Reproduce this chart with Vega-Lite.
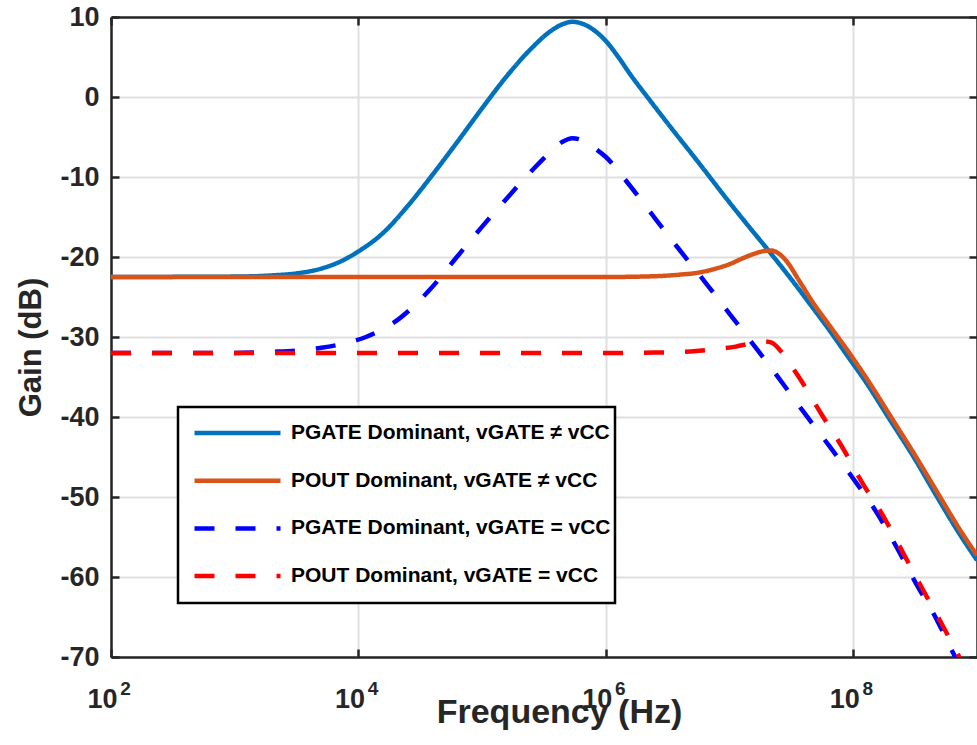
{
  "$schema": "https://vega.github.io/schema/vega-lite/v6.json",
  "width": 866,
  "height": 640,
  "autosize": {"type": "none"},
  "padding": {"left": 111, "top": 17, "right": 0, "bottom": 88},
  "background": "white",
  "config": {
    "font": "Liberation Sans",
    "view": {"stroke": null},
    "legend": {
      "orient": "none",
      "legendX": 67,
      "legendY": 390,
      "symbolType": "stroke",
      "symbolSize": 7396,
      "symbolStrokeWidth": 4.5,
      "clipHeight": 44,
      "rowPadding": 3.7,
      "padding": 4,
      "strokeColor": "#000000",
      "strokeWidth": 2.5,
      "fillColor": "#ffffff",
      "labelFont": "Liberation Sans",
      "labelFontSize": 21,
      "labelFontWeight": "bold",
      "labelColor": "#000000",
      "labelLimit": 0,
      "symbolOffset": 10,
      "labelOffset": 8
    }
  },
  "data": {
    "values": [
      {"series": "PGATE Dominant, vGATE ≠ vCC", "f": 1e2, "gain": -22.5},
      {"series": "PGATE Dominant, vGATE ≠ vCC", "f": 1e3, "gain": -22.45},
      {"series": "PGATE Dominant, vGATE ≠ vCC", "f": 2.0e3, "gain": -22.3},
      {"series": "PGATE Dominant, vGATE ≠ vCC", "f": 3.16e3, "gain": -22.05},
      {"series": "PGATE Dominant, vGATE ≠ vCC", "f": 5.01e3, "gain": -21.45},
      {"series": "PGATE Dominant, vGATE ≠ vCC", "f": 7.08e3, "gain": -20.6},
      {"series": "PGATE Dominant, vGATE ≠ vCC", "f": 1e4, "gain": -19.3},
      {"series": "PGATE Dominant, vGATE ≠ vCC", "f": 1.58e4, "gain": -17.0},
      {"series": "PGATE Dominant, vGATE ≠ vCC", "f": 2.51e4, "gain": -13.6},
      {"series": "PGATE Dominant, vGATE ≠ vCC", "f": 3.98e4, "gain": -9.7},
      {"series": "PGATE Dominant, vGATE ≠ vCC", "f": 6.31e4, "gain": -5.6},
      {"series": "PGATE Dominant, vGATE ≠ vCC", "f": 1e5, "gain": -1.4},
      {"series": "PGATE Dominant, vGATE ≠ vCC", "f": 1.58e5, "gain": 2.6},
      {"series": "PGATE Dominant, vGATE ≠ vCC", "f": 2.51e5, "gain": 6.1},
      {"series": "PGATE Dominant, vGATE ≠ vCC", "f": 3.55e5, "gain": 8.2},
      {"series": "PGATE Dominant, vGATE ≠ vCC", "f": 4.47e5, "gain": 9.1},
      {"series": "PGATE Dominant, vGATE ≠ vCC", "f": 5.37e5, "gain": 9.4},
      {"series": "PGATE Dominant, vGATE ≠ vCC", "f": 6.61e5, "gain": 9.1},
      {"series": "PGATE Dominant, vGATE ≠ vCC", "f": 7.94e5, "gain": 8.4},
      {"series": "PGATE Dominant, vGATE ≠ vCC", "f": 1e6, "gain": 7.0},
      {"series": "PGATE Dominant, vGATE ≠ vCC", "f": 1.26e6, "gain": 5.0},
      {"series": "PGATE Dominant, vGATE ≠ vCC", "f": 1.58e6, "gain": 2.8},
      {"series": "PGATE Dominant, vGATE ≠ vCC", "f": 2.24e6, "gain": -0.3},
      {"series": "PGATE Dominant, vGATE ≠ vCC", "f": 3.16e6, "gain": -3.3},
      {"series": "PGATE Dominant, vGATE ≠ vCC", "f": 5.62e6, "gain": -8.2},
      {"series": "PGATE Dominant, vGATE ≠ vCC", "f": 1e7, "gain": -13.2},
      {"series": "PGATE Dominant, vGATE ≠ vCC", "f": 1.45e7, "gain": -16.3},
      {"series": "PGATE Dominant, vGATE ≠ vCC", "f": 2.09e7, "gain": -19.3},
      {"series": "PGATE Dominant, vGATE ≠ vCC", "f": 3.16e7, "gain": -22.8},
      {"series": "PGATE Dominant, vGATE ≠ vCC", "f": 4.68e7, "gain": -26.3},
      {"series": "PGATE Dominant, vGATE ≠ vCC", "f": 6.31e7, "gain": -29.0},
      {"series": "PGATE Dominant, vGATE ≠ vCC", "f": 8.91e7, "gain": -32.3},
      {"series": "PGATE Dominant, vGATE ≠ vCC", "f": 1.26e8, "gain": -35.6},
      {"series": "PGATE Dominant, vGATE ≠ vCC", "f": 1.95e8, "gain": -40.2},
      {"series": "PGATE Dominant, vGATE ≠ vCC", "f": 3.16e8, "gain": -45.3},
      {"series": "PGATE Dominant, vGATE ≠ vCC", "f": 4.68e8, "gain": -49.8},
      {"series": "PGATE Dominant, vGATE ≠ vCC", "f": 7.08e8, "gain": -54.4},
      {"series": "PGATE Dominant, vGATE ≠ vCC", "f": 1e9, "gain": -57.9},

      {"series": "POUT Dominant, vGATE ≠ vCC", "f": 1e2, "gain": -22.5},
      {"series": "POUT Dominant, vGATE ≠ vCC", "f": 1e4, "gain": -22.5},
      {"series": "POUT Dominant, vGATE ≠ vCC", "f": 1e6, "gain": -22.5},
      {"series": "POUT Dominant, vGATE ≠ vCC", "f": 2.51e6, "gain": -22.4},
      {"series": "POUT Dominant, vGATE ≠ vCC", "f": 3.98e6, "gain": -22.2},
      {"series": "POUT Dominant, vGATE ≠ vCC", "f": 5.62e6, "gain": -21.95},
      {"series": "POUT Dominant, vGATE ≠ vCC", "f": 7.94e6, "gain": -21.4},
      {"series": "POUT Dominant, vGATE ≠ vCC", "f": 1e7, "gain": -20.9},
      {"series": "POUT Dominant, vGATE ≠ vCC", "f": 1.26e7, "gain": -20.2},
      {"series": "POUT Dominant, vGATE ≠ vCC", "f": 1.58e7, "gain": -19.6},
      {"series": "POUT Dominant, vGATE ≠ vCC", "f": 1.91e7, "gain": -19.25},
      {"series": "POUT Dominant, vGATE ≠ vCC", "f": 2.19e7, "gain": -19.2},
      {"series": "POUT Dominant, vGATE ≠ vCC", "f": 2.51e7, "gain": -19.6},
      {"series": "POUT Dominant, vGATE ≠ vCC", "f": 2.88e7, "gain": -20.5},
      {"series": "POUT Dominant, vGATE ≠ vCC", "f": 3.63e7, "gain": -22.9},
      {"series": "POUT Dominant, vGATE ≠ vCC", "f": 4.68e7, "gain": -25.6},
      {"series": "POUT Dominant, vGATE ≠ vCC", "f": 6.31e7, "gain": -28.4},
      {"series": "POUT Dominant, vGATE ≠ vCC", "f": 8.91e7, "gain": -31.6},
      {"series": "POUT Dominant, vGATE ≠ vCC", "f": 1.26e8, "gain": -35.0},
      {"series": "POUT Dominant, vGATE ≠ vCC", "f": 2.0e8, "gain": -39.9},
      {"series": "POUT Dominant, vGATE ≠ vCC", "f": 3.16e8, "gain": -44.8},
      {"series": "POUT Dominant, vGATE ≠ vCC", "f": 4.90e8, "gain": -49.7},
      {"series": "POUT Dominant, vGATE ≠ vCC", "f": 7.08e8, "gain": -53.8},
      {"series": "POUT Dominant, vGATE ≠ vCC", "f": 1e9, "gain": -57.3},

      {"series": "PGATE Dominant, vGATE = vCC", "f": 1e2, "gain": -32.0},
      {"series": "PGATE Dominant, vGATE = vCC", "f": 1e3, "gain": -32.0},
      {"series": "PGATE Dominant, vGATE = vCC", "f": 2.0e3, "gain": -31.85},
      {"series": "PGATE Dominant, vGATE = vCC", "f": 3.16e3, "gain": -31.7},
      {"series": "PGATE Dominant, vGATE = vCC", "f": 5.01e3, "gain": -31.35},
      {"series": "PGATE Dominant, vGATE = vCC", "f": 7.94e3, "gain": -30.75},
      {"series": "PGATE Dominant, vGATE = vCC", "f": 1.15e4, "gain": -30.0},
      {"series": "PGATE Dominant, vGATE = vCC", "f": 1.58e4, "gain": -29.0},
      {"series": "PGATE Dominant, vGATE = vCC", "f": 2.14e4, "gain": -27.7},
      {"series": "PGATE Dominant, vGATE = vCC", "f": 2.82e4, "gain": -26.1},
      {"series": "PGATE Dominant, vGATE = vCC", "f": 3.72e4, "gain": -24.2},
      {"series": "PGATE Dominant, vGATE = vCC", "f": 6.17e4, "gain": -20.1},
      {"series": "PGATE Dominant, vGATE = vCC", "f": 1e5, "gain": -16.2},
      {"series": "PGATE Dominant, vGATE = vCC", "f": 1.62e5, "gain": -12.5},
      {"series": "PGATE Dominant, vGATE = vCC", "f": 2.63e5, "gain": -8.9},
      {"series": "PGATE Dominant, vGATE = vCC", "f": 3.55e5, "gain": -6.9},
      {"series": "PGATE Dominant, vGATE = vCC", "f": 4.47e5, "gain": -5.6},
      {"series": "PGATE Dominant, vGATE = vCC", "f": 5.37e5, "gain": -5.15},
      {"series": "PGATE Dominant, vGATE = vCC", "f": 6.61e5, "gain": -5.5},
      {"series": "PGATE Dominant, vGATE = vCC", "f": 7.94e5, "gain": -6.3},
      {"series": "PGATE Dominant, vGATE = vCC", "f": 1e6, "gain": -7.5},
      {"series": "PGATE Dominant, vGATE = vCC", "f": 1.55e6, "gain": -11.0},
      {"series": "PGATE Dominant, vGATE = vCC", "f": 2.45e6, "gain": -15.0},
      {"series": "PGATE Dominant, vGATE = vCC", "f": 3.89e6, "gain": -19.0},
      {"series": "PGATE Dominant, vGATE = vCC", "f": 6.31e6, "gain": -23.1},
      {"series": "PGATE Dominant, vGATE = vCC", "f": 1e7, "gain": -27.1},
      {"series": "PGATE Dominant, vGATE = vCC", "f": 1.62e7, "gain": -31.3},
      {"series": "PGATE Dominant, vGATE = vCC", "f": 2.57e7, "gain": -35.4},
      {"series": "PGATE Dominant, vGATE = vCC", "f": 3.98e7, "gain": -39.4},
      {"series": "PGATE Dominant, vGATE = vCC", "f": 6.31e7, "gain": -43.5},
      {"series": "PGATE Dominant, vGATE = vCC", "f": 9.77e7, "gain": -47.5},
      {"series": "PGATE Dominant, vGATE = vCC", "f": 1.51e8, "gain": -51.7},
      {"series": "PGATE Dominant, vGATE = vCC", "f": 2.19e8, "gain": -56.0},
      {"series": "PGATE Dominant, vGATE = vCC", "f": 3.16e8, "gain": -60.6},
      {"series": "PGATE Dominant, vGATE = vCC", "f": 4.68e8, "gain": -65.2},
      {"series": "PGATE Dominant, vGATE = vCC", "f": 6.46e8, "gain": -69.6},
      {"series": "PGATE Dominant, vGATE = vCC", "f": 1e9, "gain": -75.0},

      {"series": "POUT Dominant, vGATE = vCC", "f": 1e2, "gain": -32.0},
      {"series": "POUT Dominant, vGATE = vCC", "f": 1e4, "gain": -32.0},
      {"series": "POUT Dominant, vGATE = vCC", "f": 1e6, "gain": -32.0},
      {"series": "POUT Dominant, vGATE = vCC", "f": 2.51e6, "gain": -31.95},
      {"series": "POUT Dominant, vGATE = vCC", "f": 5.37e6, "gain": -31.75},
      {"series": "POUT Dominant, vGATE = vCC", "f": 7.94e6, "gain": -31.5},
      {"series": "POUT Dominant, vGATE = vCC", "f": 1.12e7, "gain": -31.2},
      {"series": "POUT Dominant, vGATE = vCC", "f": 1.55e7, "gain": -30.75},
      {"series": "POUT Dominant, vGATE = vCC", "f": 1.91e7, "gain": -30.55},
      {"series": "POUT Dominant, vGATE = vCC", "f": 2.19e7, "gain": -30.7},
      {"series": "POUT Dominant, vGATE = vCC", "f": 2.51e7, "gain": -31.5},
      {"series": "POUT Dominant, vGATE = vCC", "f": 3.02e7, "gain": -33.2},
      {"series": "POUT Dominant, vGATE = vCC", "f": 3.63e7, "gain": -35.0},
      {"series": "POUT Dominant, vGATE = vCC", "f": 5.50e7, "gain": -39.6},
      {"series": "POUT Dominant, vGATE = vCC", "f": 8.13e7, "gain": -43.75},
      {"series": "POUT Dominant, vGATE = vCC", "f": 1.17e8, "gain": -48.1},
      {"series": "POUT Dominant, vGATE = vCC", "f": 1.78e8, "gain": -52.6},
      {"series": "POUT Dominant, vGATE = vCC", "f": 2.57e8, "gain": -57.2},
      {"series": "POUT Dominant, vGATE = vCC", "f": 3.63e8, "gain": -61.5},
      {"series": "POUT Dominant, vGATE = vCC", "f": 5.25e8, "gain": -66.0},
      {"series": "POUT Dominant, vGATE = vCC", "f": 7.08e8, "gain": -69.8},
      {"series": "POUT Dominant, vGATE = vCC", "f": 1e9, "gain": -74.2}
    ]
  },
  "layer": [
    {
      "transform": [{"filter": {"field": "series", "oneOf": ["PGATE Dominant, vGATE ≠ vCC", "POUT Dominant, vGATE ≠ vCC"]}}],
      "mark": {"type": "line", "strokeWidth": 4.5, "interpolate": "monotone", "clip": true},
      "encoding": {
        "x": {
          "field": "f", "type": "quantitative",
          "scale": {"type": "log", "domain": [100, 1000000000], "nice": false},
          "axis": {
            "orient": "bottom",
            "values": [100, 10000, 1000000, 100000000],
            "labelExpr": "'10'",
            "labelFontSize": 27, "labelFontWeight": "bold", "labelColor": "#262626",
            "labelPadding": 37, "labelOffset": -9, "labelFlush": false, "labelOverlap": false, "labelBound": false,
            "tickSize": -8, "tickWidth": 2.5, "tickColor": "#262626",
            "domainColor": "#262626", "domainWidth": 2.5,
            "grid": true, "gridColor": "#dfdfdf", "gridWidth": 2,
            "title": "Frequency (Hz)", "titleFontSize": 34, "titleFontWeight": "bold", "titleColor": "#262626",
            "titleX": 448, "titleY": 65, "titleBaseline": "alphabetic"
          }
        },
        "y": {
          "field": "gain", "type": "quantitative",
          "scale": {"domain": [-70, 10], "nice": false, "zero": false},
          "axis": {
            "orient": "left",
            "values": [-70, -60, -50, -40, -30, -20, -10, 0, 10],
            "labelExpr": "'' + datum.value",
            "labelFontSize": 27, "labelFontWeight": "bold", "labelColor": "#262626",
            "labelPadding": 20, "labelFlush": false, "labelOverlap": false, "labelBound": false,
            "tickSize": -8, "tickWidth": 2.5, "tickColor": "#262626",
            "domainColor": "#262626", "domainWidth": 2.5,
            "grid": true, "gridColor": "#dfdfdf", "gridWidth": 2,
            "title": "Gain (dB)", "titleFontSize": 31, "titleFontWeight": "bold", "titleColor": "#262626",
            "titlePadding": 12, "titleY": 330
          }
        },
        "color": {
          "field": "series", "type": "nominal",
          "scale": {
            "domain": ["PGATE Dominant, vGATE ≠ vCC", "POUT Dominant, vGATE ≠ vCC", "PGATE Dominant, vGATE = vCC", "POUT Dominant, vGATE = vCC"],
            "range": ["#0072BD", "#D95319", "#0000FF", "#FF0000"]
          },
          "legend": {"title": null}
        },
        "strokeDash": {
          "field": "series", "type": "nominal",
          "scale": {
            "domain": ["PGATE Dominant, vGATE ≠ vCC", "POUT Dominant, vGATE ≠ vCC", "PGATE Dominant, vGATE = vCC", "POUT Dominant, vGATE = vCC"],
            "range": [[1, 0], [1, 0], [20, 21], [20, 21]]
          },
          "legend": {"title": null}
        }
      }
    },
    {
      "transform": [{"filter": {"field": "series", "equal": "PGATE Dominant, vGATE = vCC"}}],
      "mark": {"type": "line", "strokeWidth": 4.5, "interpolate": "monotone", "clip": true},
      "encoding": {
        "x": {
          "field": "f", "type": "quantitative",
          "axis": {
            "orient": "top", "values": [100, 10000, 1000000, 100000000],
            "labels": false, "title": null, "grid": false,
            "tickSize": -8, "tickWidth": 2.5, "tickColor": "#262626",
            "domainColor": "#262626", "domainWidth": 2.5
          }
        },
        "y": {
          "field": "gain", "type": "quantitative",
          "axis": {
            "orient": "right", "values": [-70, -60, -50, -40, -30, -20, -10, 0, 10],
            "labels": false, "title": null, "grid": false,
            "tickSize": -8, "tickWidth": 2.5, "tickColor": "#262626",
            "domainColor": "#262626", "domainWidth": 2.5
          }
        },
        "color": {"field": "series", "type": "nominal", "legend": {"title": null}},
        "strokeDash": {"field": "series", "type": "nominal", "legend": {"title": null}}
      }
    },
    {
      "transform": [{"filter": {"field": "series", "equal": "POUT Dominant, vGATE = vCC"}}],
      "mark": {"type": "line", "strokeWidth": 4.5, "interpolate": "monotone", "clip": true},
      "encoding": {
        "x": {
          "field": "f", "type": "quantitative",
          "axis": {
            "orient": "bottom", "values": [100, 10000, 1000000, 100000000],
            "labelExpr": "'' + round(log(datum.value) / LN10)",
            "labelFontSize": 19, "labelFontWeight": "bold", "labelColor": "#262626",
            "labelPadding": 22, "labelOffset": 14, "labelFlush": false, "labelOverlap": false, "labelBound": false,
            "ticks": false, "domain": false, "grid": false, "title": null
          }
        },
        "y": {"field": "gain", "type": "quantitative", "axis": null},
        "color": {"field": "series", "type": "nominal", "legend": {"title": null}},
        "strokeDash": {"field": "series", "type": "nominal", "legend": {"title": null}}
      }
    }
  ],
  "resolve": {"axis": {"x": "independent", "y": "independent"}}
}
